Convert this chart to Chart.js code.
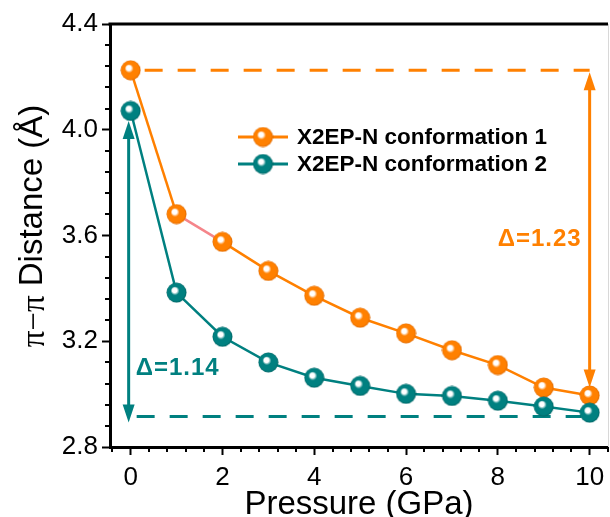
<!DOCTYPE html>
<html>
<head>
<meta charset="utf-8">
<title>pi-pi distance vs pressure</title>
<script src="https://cdn.jsdelivr.net/npm/chart.js@4.4.1/dist/chart.umd.min.js"></script>
<style>
  html, body { margin: 0; padding: 0; background: #fff; }
  canvas { display: block; }
</style>
</head>
<body>
<canvas id="distChart" width="610" height="517"></canvas>
<script>
// pressure steps (GPa)
const pressures = [0, 1, 2, 3, 4, 5, 6, 7, 8, 9, 10];
// pi-pi stacking distance (Angstrom)
const conf1 = [4.225, 3.681, 3.576, 3.466, 3.372, 3.289, 3.230, 3.166, 3.110, 3.025, 2.995];
const conf2 = [4.071, 3.384, 3.217, 3.120, 3.062, 3.031, 3.001, 2.993, 2.975, 2.953, 2.930];
const seriesLabels = ["X2EP-N conformation 1", "X2EP-N conformation 2"];
const xTicks = [0, 2, 4, 6, 8, 10];
const yTicks = [2.8, 3.2, 3.6, 4.0, 4.4];
// level of the lower dashed guide for conformation 2
const conf2Floor = 2.915;

const ORANGE = "#ff8000";
const TEAL = "#008080";
const SANS = "'Liberation Sans', Arial, sans-serif";

// shaded ball used as marker
function makeBall(color, dark) {
  const size = 21, r = 10;
  const c = document.createElement("canvas");
  c.width = c.height = size;
  const g = c.getContext("2d");
  const cx = size / 2, cy = size / 2;
  const grad = g.createRadialGradient(cx - 2.5, cy - 3, 0.3, cx, cy, r);
  grad.addColorStop(0, "#ffffff");
  grad.addColorStop(0.22, "#ffffff");
  grad.addColorStop(0.42, color);
  grad.addColorStop(0.85, color);
  grad.addColorStop(1, dark);
  g.fillStyle = grad;
  g.beginPath();
  g.arc(cx, cy, r, 0, Math.PI * 2);
  g.fill();
  return c;
}
const orangeBall = makeBall(ORANGE, "#e06a00");
const tealBall = makeBall(TEAL, "#006565");

function arrowHead(ctx, x, tipY, dir, color) {
  // dir = -1 points up, +1 points down
  ctx.fillStyle = color;
  ctx.beginPath();
  ctx.moveTo(x, tipY);
  ctx.lineTo(x - 6, tipY - dir * 18);
  ctx.lineTo(x + 6, tipY - dir * 18);
  ctx.closePath();
  ctx.fill();
}

function doubleArrow(ctx, x, topY, botY, color) {
  ctx.save();
  ctx.strokeStyle = color;
  ctx.lineWidth = 3;
  ctx.beginPath();
  ctx.moveTo(x, topY + 14);
  ctx.lineTo(x, botY - 14);
  ctx.stroke();
  arrowHead(ctx, x, topY, -1, color);
  arrowHead(ctx, x, botY, 1, color);
  ctx.restore();
}

function dashedH(ctx, x0, x1, y, color) {
  ctx.save();
  ctx.strokeStyle = color;
  ctx.lineWidth = 3;
  ctx.setLineDash([18, 15]);
  ctx.beginPath();
  ctx.moveTo(x0, y);
  ctx.lineTo(x1, y);
  ctx.stroke();
  ctx.restore();
}

// frame, minor ticks and the y title
const frame = {
  id: "frame",
  afterDraw(chart) {
    const { ctx, chartArea: a, scales: { x, y } } = chart;
    ctx.save();
    ctx.strokeStyle = "#000";
    ctx.lineWidth = 3;
    ctx.beginPath();
    ctx.moveTo(a.left - 1.5, a.top);
    ctx.lineTo(a.right, a.top);
    ctx.stroke();
    ctx.strokeStyle = "#d8d8d8";
    ctx.lineWidth = 1;
    ctx.beginPath();
    ctx.moveTo(a.right + 0.5, a.top);
    ctx.lineTo(a.right + 0.5, a.bottom);
    ctx.stroke();

    // minor ticks
    ctx.strokeStyle = "#000";
    ctx.lineWidth = 2;
    ctx.beginPath();
    for (let v = -0.4; v <= x.max + 1e-6; v += 0.4) {
      if (Math.abs(v / 2 - Math.round(v / 2)) < 1e-6) continue;
      const px = Math.round(x.getPixelForValue(v));
      ctx.moveTo(px, a.bottom);
      ctx.lineTo(px, a.bottom + 5);
    }
    for (let v = 2.8; v <= 4.4 + 1e-6; v += 0.08) {
      if (Math.abs(v / 0.4 - Math.round(v / 0.4)) < 1e-6) continue;
      const py = Math.round(y.getPixelForValue(v));
      ctx.moveTo(a.left, py);
      ctx.lineTo(a.left - 5, py);
    }
    ctx.stroke();

    // rotated y title: greek part in serif, rest in sans
    const part1 = "\u03c0\u2212\u03c0";
    const part2 = " Distance (\u00c5)";
    ctx.translate(33, 226);
    ctx.rotate(-Math.PI / 2);
    ctx.fillStyle = "#000";
    ctx.textBaseline = "middle";
    ctx.font = "33px 'Liberation Serif', serif";
    const w1 = ctx.measureText(part1).width;
    ctx.font = "33px " + SANS;
    const w2 = ctx.measureText(part2).width;
    let sx = -(w1 + w2) / 2;
    ctx.font = "33px 'Liberation Serif', serif";
    ctx.fillText(part1, sx, 2);
    ctx.font = "33px " + SANS;
    ctx.fillText(part2, sx + w1, 0);
    ctx.restore();
  },
};

// dashed guides, delta arrows and their labels
const deltaMarks = {
  id: "deltaMarks",
  beforeDatasetsDraw(chart) {
    const { ctx, scales: { x, y } } = chart;
    const x0 = x.getPixelForValue(pressures[0]);
    const x10 = x.getPixelForValue(pressures[pressures.length - 1]);
    const last = conf1.length - 1;

    // conformation 1
    const topY = y.getPixelForValue(conf1[0]);
    dashedH(ctx, x0 + 14, x10, topY, ORANGE);
    doubleArrow(ctx, x10, topY + 2, y.getPixelForValue(conf1[last]) - 8, ORANGE);

    // conformation 2
    const floorY = y.getPixelForValue(conf2Floor);
    dashedH(ctx, x0 + 6, x10 - 8, floorY, TEAL);
    doubleArrow(ctx, x0 - 2, y.getPixelForValue(conf2[0]) + 10, floorY + 6, TEAL);

    const d1 = (conf1[0] - conf1[last]).toFixed(2);
    const d2 = (conf2[0] - conf2[last]).toFixed(2);
    ctx.save();
    ctx.font = "bold 24px " + SANS;
    ctx.letterSpacing = "1px";
    ctx.textBaseline = "middle";
    ctx.fillStyle = ORANGE;
    ctx.textAlign = "right";
    ctx.fillText("\u0394=" + d1, x10 - 8, y.getPixelForValue(3.585));
    ctx.fillStyle = TEAL;
    ctx.textAlign = "left";
    ctx.fillText("\u0394=" + d2, x0 + 5, y.getPixelForValue(3.098));
    ctx.restore();
  },
};

// legend drawn inside the plot
const innerLegend = {
  id: "innerLegend",
  afterDatasetsDraw(chart) {
    const { ctx } = chart;
    const items = [
      { ds: chart.data.datasets[1], ball: orangeBall },
      { ds: chart.data.datasets[0], ball: tealBall },
    ];
    ctx.save();
    items.forEach((it, i) => {
      const yy = 137 + i * 27;
      ctx.strokeStyle = it.ds.borderColor;
      ctx.lineWidth = 3;
      ctx.beginPath();
      ctx.moveTo(238, yy);
      ctx.lineTo(288, yy);
      ctx.stroke();
      ctx.drawImage(it.ball, 263 - it.ball.width / 2, yy - it.ball.height / 2);
      ctx.fillStyle = "#000";
      ctx.font = "bold 22.5px " + SANS;
      ctx.textBaseline = "middle";
      ctx.fillText(it.ds.label, 297, yy + 1);
    });
    ctx.restore();
  },
};

new Chart(document.getElementById("distChart"), {
  type: "line",
  data: {
    labels: pressures,
    datasets: [
      {
        label: seriesLabels[1],
        data: pressures.map((p, i) => ({ x: p, y: conf2[i] })),
        borderColor: TEAL,
        borderWidth: 2.5,
        pointStyle: tealBall,
        pointRadius: 10,
        order: 0,
      },
      {
        label: seriesLabels[0],
        data: pressures.map((p, i) => ({ x: p, y: conf1[i] })),
        borderColor: ORANGE,
        borderWidth: 2.5,
        pointStyle: orangeBall,
        pointRadius: 10,
        order: 1,
        segment: {
          borderColor: (c) => (c.p0DataIndex === 1 ? "#f5858a" : undefined),
        },
      },
    ],
  },
  options: {
    responsive: false,
    animation: false,
    layout: { autoPadding: false, padding: { top: 24, right: 2, left: 0, bottom: 0 } },
    plugins: {
      legend: { display: false },
      tooltip: { enabled: false },
    },
    scales: {
      x: {
        type: "linear",
        min: -0.45,
        max: 10.4,
        afterBuildTicks: (s) => { s.ticks = xTicks.map((v) => ({ value: v })); },
        afterFit: (s) => {
          s.height = 70;
          s.paddingLeft = 0;
          s.paddingRight = 0;
        },
        border: { color: "#000", width: 3 },
        grid: { drawOnChartArea: false, tickLength: 8, tickWidth: 2, tickColor: "#000" },
        ticks: {
          color: "#000",
          padding: 7,
          maxRotation: 0,
          font: { family: SANS, size: 26 },
        },
        title: {
          display: true,
          text: "Pressure (GPa)",
          color: "#000",
          font: { family: SANS, size: 33, lineHeight: 0.75 },
          padding: { top: 0, bottom: 0 },
        },
      },
      y: {
        min: 2.8,
        max: 4.4,
        afterBuildTicks: (s) => { s.ticks = yTicks.map((v) => ({ value: v })); },
        afterFit: (s) => {
          s.width = 110;
          s.paddingTop = 0;
          s.paddingBottom = 0;
        },
        border: { color: "#000", width: 3 },
        grid: { drawOnChartArea: false, tickLength: 8, tickWidth: 2, tickColor: "#000" },
        ticks: {
          color: "#000",
          padding: 4,
          font: { family: SANS, size: 26 },
          callback: (v) => v.toFixed(1),
        },
      },
    },
  },
  plugins: [deltaMarks, innerLegend, frame],
});
</script>
</body>
</html>
